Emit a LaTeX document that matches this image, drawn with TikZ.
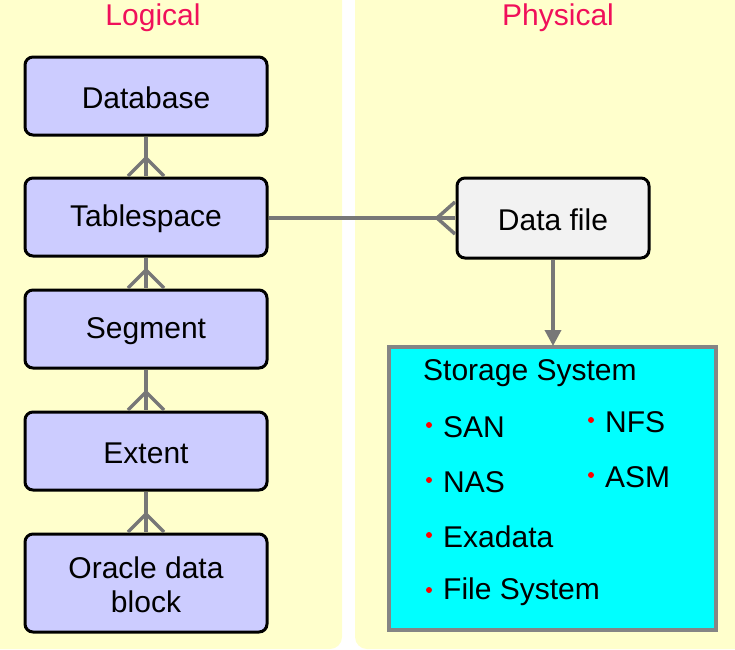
\documentclass[tikz,border=0pt]{standalone}
\usepackage{fontspec}
\setmainfont{Liberation Sans}
\usetikzlibrary{arrows.meta}
\definecolor{pan}{HTML}{FFFFCC}
\definecolor{lav}{HTML}{CCCCFF}
\definecolor{pink}{HTML}{F0105A}
\definecolor{lg}{HTML}{777777}
\definecolor{cy}{HTML}{00FFFF}
\begin{document}
\begin{tikzpicture}[x=1pt,y=-1pt,
  box/.style={draw=black,line width=3pt,rounded corners=8pt,fill=lav,font=\fontsize{30}{34}\selectfont,align=center,inner sep=0pt},
  con/.style={draw=lg,line width=3.5pt},
  it/.style={anchor=west,font=\fontsize{30}{34}\selectfont,inner sep=0pt},
  ttl/.style={font=\fontsize{30}{34}\selectfont,text=pink}]
\useasboundingbox (0,0) rectangle (735,649);
\fill[pan,rounded corners=12pt] (-20,-20) rectangle (342,649);
\fill[pan,rounded corners=12pt] (355,-20) rectangle (755,649);
\fill[pan] (-20,-20) rectangle (342,20);
\fill[pan] (355,-20) rectangle (755,20);
\node[ttl] (tl) at (153,18) {Logical};
\node[ttl] (tp) at (558,18) {Physical};
\path[box] (25,57) rectangle (267,135) node[midway,draw=none,fill=none,yshift=-2pt] (db) {Database};
\path[box] (25,178) rectangle (267,256) node[midway,draw=none,fill=none,yshift=-2pt] (ts) {Tablespace};
\path[box] (25,290) rectangle (267,368) node[midway,draw=none,fill=none,yshift=-2pt] (sg) {Segment};
\path[box] (25,412) rectangle (267,490) node[midway,draw=none,fill=none,yshift=-2pt] (ex) {Extent};
\path[box] (25,534) rectangle (267,632) node[midway,draw=none,fill=none,yshift=-2pt] (ob) {Oracle data\\[0pt]block};
\path[box,fill=gray!10] (457,178) rectangle (649,258) node[midway,draw=none,fill=none,yshift=-2pt] (df) {Data file};
\draw[draw=lg!90,line width=3.5pt,fill=cy] (389,347) rectangle (716,630);
\coordinate (st) at (553,346);
\foreach \a/\b in {137/176,258/288,370/410,492/532}{
  \draw[con] (146,\a) -- (146,\b);
  \draw[con] (128,\b) -- (146,\b-18) -- (164,\b);
}
\draw[con] (269,218) -- (455,218);
\draw[con] (455,202) -- (437,218) -- (455,234);
\draw[con,-{Triangle[length=16pt,width=16pt]}] (553,260) -- (st);
\node[it] (ss) at (423,373) {Storage System};
\foreach \x/\y/\t in {443/427/SAN,443/482/NAS,443/537/Exadata,443/592/File System,605/422/NFS,605/477/ASM}{
  \fill[red] (\x-14,\y-2) circle (3pt);
  \node[it] at (\x,\y) {\t};
}
\end{tikzpicture}
\end{document}
